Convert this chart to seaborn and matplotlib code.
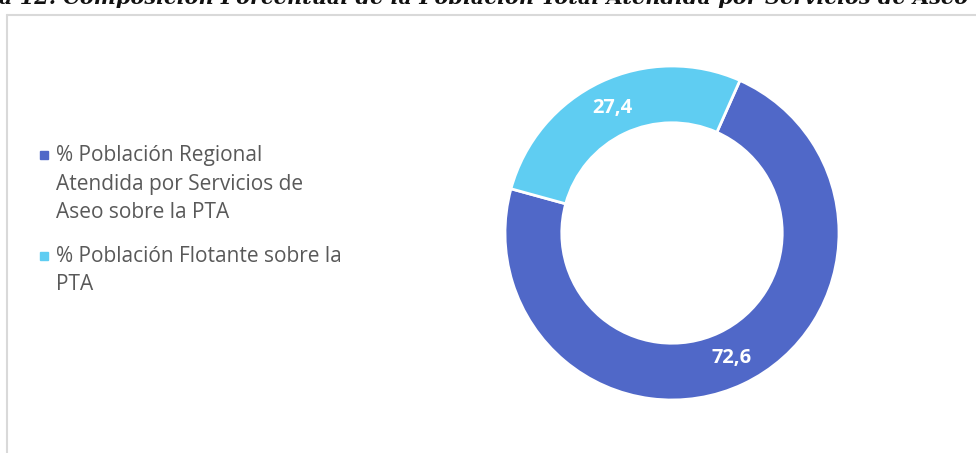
import matplotlib
matplotlib.use("Agg")
import matplotlib.pyplot as plt
import seaborn as sns
import numpy as np
from matplotlib.lines import Line2D

# data
categories = ["% Población Regional\nAtendida por Servicios de\nAseo sobre la PTA",
              "% Población Flotante sobre la\nPTA"]
values = [72.6, 27.4]
value_labels = ["72,6", "27,4"]
colors = ["#5068C8", "#5FCDF2"]
title = "Gráfica 12. Composición Porcentual de la Población Total Atendida por Servicios de Aseo"

sns.set_theme(style="white")
plt.rcParams['font.family'] = ['Open Sans', 'DejaVu Sans']

W, H = 976, 453
fig = plt.figure(figsize=(W / 100, H / 100), dpi=100)

# frame of the chart area (clipped by the image edge)
fig.add_artist(Line2D([7 / W, 7 / W], [0, 1 - 15 / H], color="#D9D9D9", lw=1.5))
fig.add_artist(Line2D([7 / W, 1], [1 - 15 / H, 1 - 15 / H], color="#D9D9D9", lw=1.5))

# title, cut off at the top as in the source image
fig.text(968 / W, 1 - 4 / H, title, ha="right", va="baseline",
         fontsize=15, fontweight="bold", fontstyle="italic",
         family="DejaVu Serif", color="#111111")

# donut
cx, cy, r = 672, 233, 167
ax = fig.add_axes([(cx - r) / W, (H - cy - r) / H, 2 * r / W, 2 * r / H])
wedges, _ = ax.pie(values, colors=colors, startangle=66, counterclock=False,
                   radius=1, wedgeprops=dict(width=0.34, edgecolor="white", linewidth=2))
ax.set_xlim(-1, 1)
ax.set_ylim(-1, 1)
ax.set_aspect("equal")
ax.axis("off")

ang = 66
for v, lab in zip(values, value_labels):
    span = v / 100 * 360
    mid = np.deg2rad(ang - span / 2)
    ax.text(0.83 * np.cos(mid), 0.83 * np.sin(mid), lab, ha="center", va="center",
            color="white", fontsize=14.5, fontweight="bold")
    ang -= span

# legend drawn by hand so the marker sits on the first line
legend_y = [155, 256]
for lab, col, y0 in zip(categories, colors, legend_y):
    fig.patches.append(plt.Rectangle((40 / W, 1 - (y0 + 4) / H), 8 / W, 8 / H,
                                     transform=fig.transFigure, color=col, figure=fig))
    for i, line in enumerate(lab.split("\n")):
        fig.text(56 / W, 1 - (y0 + 29 * i) / H, line, ha="left", va="center",
                 fontsize=15, color="#595959")

fig.savefig("out.png", dpi=100)
